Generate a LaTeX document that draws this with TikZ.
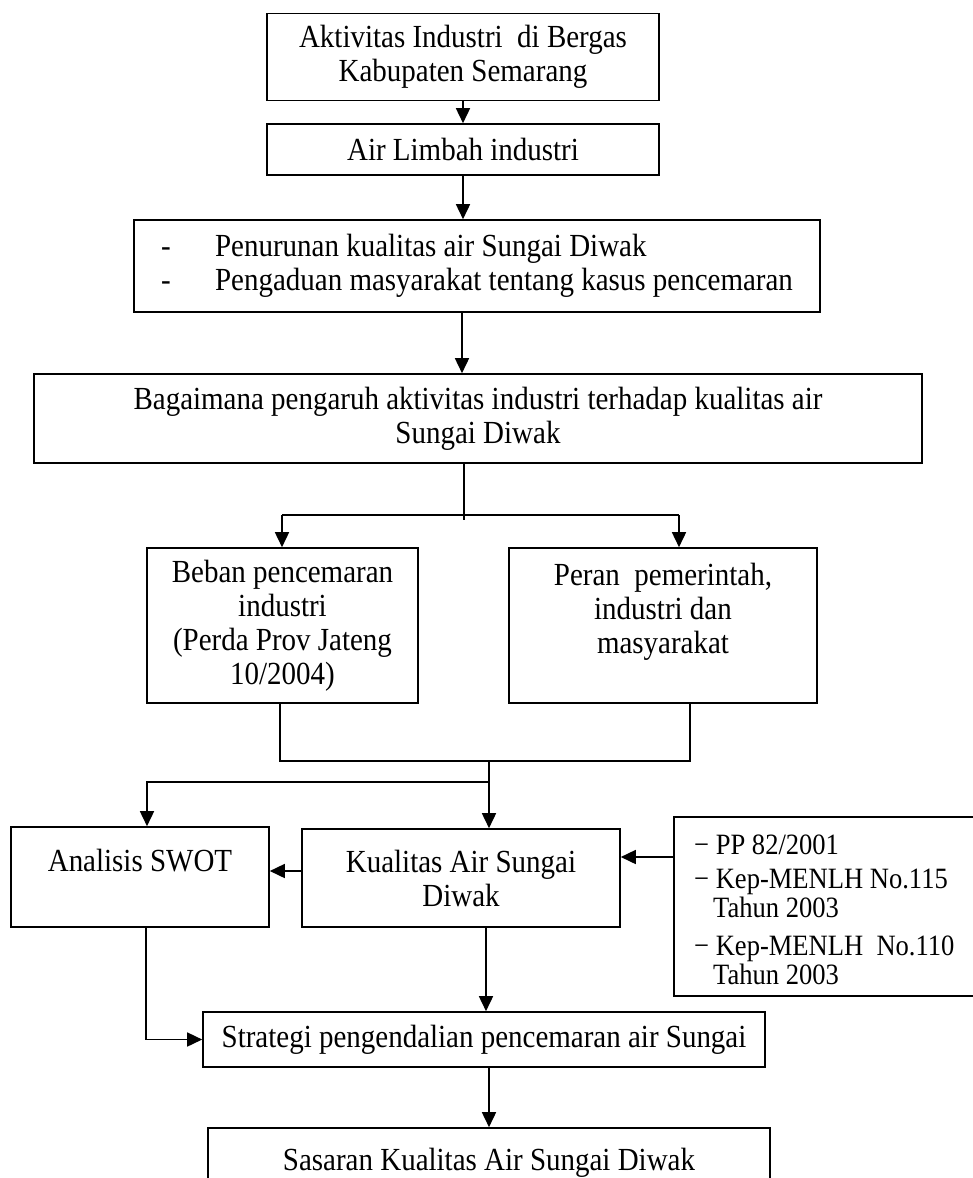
\documentclass[tikz,border=0pt]{standalone}
\usepackage{fontspec}
\setmainfont{Liberation Serif}[FakeStretch=0.9]
\usetikzlibrary{arrows.meta,calc}
\begin{document}
\begin{tikzpicture}[x=1pt,y=-1pt,
  box/.style={draw,line width=1.6pt,rectangle,inner sep=0pt,align=center,font=\fontsize{32.2}{34}\selectfont},
  arr/.style={line width=1.6pt,-{Triangle[length=15pt,width=14pt]}},
  ln/.style={line width=1.6pt},
  txt/.style={inner sep=0pt,anchor=base west,font=\fontsize{29.5}{34}\selectfont}]
\useasboundingbox (0,0) rectangle (973,1178);

% boxes
\node[box,minimum width=392pt,minimum height=87pt] (b1) at (463,57) {Aktivitas Industri\ \ di Bergas\\Kabupaten Semarang};
\node[box,minimum width=392pt,minimum height=51pt] (b2) at (463,149.5) {Air Limbah industri};
\node[box,minimum width=686pt,minimum height=92pt,align=left] (b3) at (477,266) {\makebox[54pt][l]{-}Penurunan kualitas air Sungai Diwak\\\makebox[54pt][l]{-}Pengaduan masyarakat tentang kasus pencemaran};
\node[box,minimum width=888pt,minimum height=89pt] (b4) at (478,418.5) {Bagaimana pengaruh aktivitas industri terhadap kualitas air\\Sungai Diwak};
\node[box,minimum width=271pt,minimum height=155pt] (beban) at (282.5,625.5) {Beban pencemaran\\industri\\(Perda Prov Jateng\\10/2004)};
\node[box,minimum width=308pt,minimum height=155pt] (peran) at (663,625.5) {Peran\ \ pemerintah,\\industri dan\\masyarakat\\\mbox{}};
\node[box,minimum width=258pt,minimum height=100pt] (swot) at (140,877) {Analisis SWOT\\\mbox{}};
\node[box,minimum width=318pt,minimum height=98pt] (kual) at (461,878) {Kualitas Air Sungai\\Diwak};
\node[box,minimum width=320pt,minimum height=179pt] (pp) at (834,906.5) {};
\node[box,minimum width=562pt,minimum height=55pt] (strat) at (484,1039.5) {Strategi pengendalian pencemaran air Sungai};
\node[box,minimum width=562pt,minimum height=70pt] (sas) at (489,1163) {Sasaran Kualitas Air Sungai Diwak};

% PP box text
\node[txt] (pp1) at (694,854) {− PP 82/2001};
\node[txt] (pp2) at (694,888) {− Kep-MENLH No.115};
\node[txt] (pp3) at (713,917) {Tahun 2003};
\node[txt] (pp4) at (694,955) {− Kep-MENLH\ \ No.110};
\node[txt] (pp5) at (713,984) {Tahun 2003};

% junction coordinates
\coordinate (j1) at (464,515);
\coordinate (jL) at (282,515);
\coordinate (jR) at (679,515);
\coordinate (k1) at (280,761);
\coordinate (k2) at (690,761);
\coordinate (k3) at (489,761);
\coordinate (k4) at (489,782);
\coordinate (k5) at (147,782);
\coordinate (m1) at (146,1039.5);

% connectors
\draw[arr] (b1.south) -- (b2.north);
\draw[arr] (b2.south) -- (b3.north -| b2.south);
\draw[arr] (b3.south -| 462,0) -- (b4.north -| 462,0);
\draw[ln] (b4.south -| j1) -- ($(j1)+(0,5)$);
\draw[ln] (jL) -- (jR);
\draw[arr] (jL) -- (beban.north -| jL);
\draw[arr] (jR) -- (peran.north -| jR);
\draw[ln] (beban.south -| k1) -- (k1) -- (k2) -- (peran.south -| k2);
\draw[arr] (k3) -- (kual.north -| k3);
\draw[arr] (k4) -- (k5) -- (swot.north -| k5);
\draw[arr] (kual.west |- 0,871) -- (swot.east |- 0,871);
\draw[arr] (pp.west |- 0,857) -- (kual.east |- 0,857);
\draw[arr] (kual.south -| 486,0) -- (strat.north -| 486,0);
\draw[arr] (swot.south -| m1) -- (m1) -- (strat.west |- m1);
\draw[arr] (strat.south -| 489,0) -- (sas.north -| 489,0);
\end{tikzpicture}
\end{document}
